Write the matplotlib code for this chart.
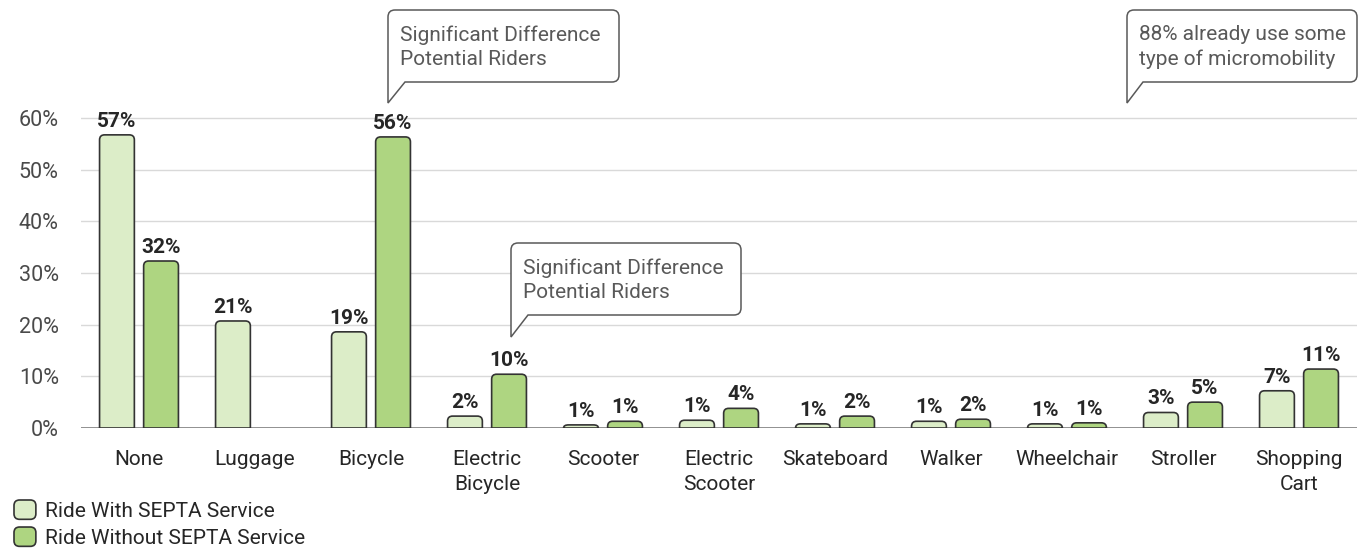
import matplotlib
matplotlib.use("Agg")
import matplotlib.pyplot as plt
from matplotlib.path import Path
from matplotlib.patches import PathPatch, FancyBboxPatch, Patch
from matplotlib.legend_handler import HandlerPatch
from matplotlib.transforms import Affine2D
import numpy as np

plt.rcParams["font.family"] = ["Roboto", "DejaVu Sans"]

# data
categories = ["None", "Luggage", "Bicycle", "Electric\nBicycle", "Scooter",
              "Electric\nScooter", "Skateboard", "Walker", "Wheelchair",
              "Stroller", "Shopping\nCart"]
with_septa = [56.7, 20.7, 18.6, 2.3, 0.6, 1.5, 0.8, 1.3, 0.8, 3.0, 7.2]
without_septa = [32.3, 0.0, 56.3, 10.4, 1.3, 3.8, 2.3, 1.7, 1.0, 5.0, 11.4]
with_labels = ["57%", "21%", "19%", "2%", "1%", "1%", "1%", "1%", "1%", "3%", "7%"]
without_labels = ["32%", "", "56%", "10%", "1%", "4%", "2%", "2%", "1%", "5%", "11%"]
series_names = ["Ride With SEPTA Service", "Ride Without SEPTA Service"]
yticks = [0, 10, 20, 30, 40, 50, 60]

callouts = [
    ("Significant Difference\nPotential Riders", (388, 10, 619, 82, 405, 103)),
    ("Significant Difference\nPotential Riders", (511, 243, 741, 315, 528, 337)),
    ("88% already use some\ntype of micromobility", (1127, 10, 1357, 82, 1143, 103)),
]

LIGHT = "#dcedc8"
DARK = "#aed581"
EDGE = "#333333"
TEXT = "#262626"
GRAY = "#595959"

W, H = 1359, 557
fig = plt.figure(figsize=(W / 100, H / 100), dpi=100)
ax = fig.add_axes([81 / W, (H - 428) / H, (1357 - 81) / W, 428 / H])
px = Affine2D().scale(1 / W, -1 / H).translate(0, 1) + fig.transFigure

x = np.arange(len(categories))
bw = 0.30
off = 0.19
b1 = ax.bar(x - off, with_septa, bw, color=LIGHT)
b2 = ax.bar(x + off, without_septa, bw, color=DARK)

ax.set_xlim(-0.5, len(categories) - 0.5)
ax.set_ylim(0, 428 / 5.17)

# rounded top corners
rx = 5 / 116
ry = 5 / 5.17


def rounded(rect):
    x0, w, h = rect.get_x(), rect.get_width(), rect.get_height()
    r_y = min(ry, h)
    verts = [(x0, 0), (x0, h - r_y), (x0, h), (x0 + rx, h), (x0 + w - rx, h),
             (x0 + w, h), (x0 + w, h - r_y), (x0 + w, 0), (x0, 0)]
    codes = [Path.MOVETO, Path.LINETO, Path.CURVE3, Path.CURVE3, Path.LINETO,
             Path.CURVE3, Path.CURVE3, Path.LINETO, Path.CLOSEPOLY]
    return Path(verts, codes)


for bars in (b1, b2):
    for rect in bars:
        rect.set_visible(False)
        if rect.get_height() <= 0:
            continue
        ax.add_patch(PathPatch(rounded(rect), facecolor=rect.get_facecolor(),
                               edgecolor=EDGE, lw=1.2, zorder=3))

ax.bar_label(b1, labels=with_labels, padding=3, fontsize=15, fontweight="bold", color=TEXT)
ax.bar_label(b2, labels=without_labels, padding=3, fontsize=15, fontweight="bold", color=TEXT)

# axes styling
for s in ax.spines.values():
    s.set_visible(False)
ax.set_yticks(yticks)
ax.set_yticklabels([f"{v}%" for v in yticks])
ax.set_xticks(x)
ax.set_xticklabels(categories)
ax.tick_params(axis="y", length=0, pad=16, labelsize=15.5, labelcolor="#4a4a4a")
ax.tick_params(axis="x", length=0, pad=16, labelsize=15, labelcolor=TEXT)
for lab in ax.get_xticklabels():
    lab.set_linespacing(1.4)
ax.yaxis.grid(True, color="#d9d9d9", lw=1)
ax.set_axisbelow(True)
ax.axhline(0, color="#808080", lw=1.2, zorder=2)

# callouts
for text, (x0, y0, x1, y1, tx, ty) in callouts:
    r = 7
    verts = [(x0 + r, y0), (x1 - r, y0), (x1, y0), (x1, y0 + r), (x1, y1 - r),
             (x1, y1), (x1 - r, y1), (tx, y1), (x0, ty), (x0, y0 + r),
             (x0, y0), (x0 + r, y0), (x0 + r, y0)]
    codes = [Path.MOVETO, Path.LINETO, Path.CURVE3, Path.CURVE3, Path.LINETO,
             Path.CURVE3, Path.CURVE3, Path.LINETO, Path.LINETO, Path.LINETO,
             Path.CURVE3, Path.CURVE3, Path.CLOSEPOLY]
    fig.add_artist(PathPatch(Path(verts, codes), transform=px, facecolor="white",
                             edgecolor=GRAY, lw=1.1, zorder=5))
    fig.text(x0 + 12, y0 + 15, text, transform=px, ha="left", va="top",
             fontsize=15, color=GRAY, linespacing=1.38, zorder=6)


def legend_box(legend, orig_handle, xdescent, ydescent, width, height, fontsize):
    return FancyBboxPatch((-xdescent, -ydescent), width, height,
                          boxstyle="round,pad=0,rounding_size=4")


handles = [Patch(facecolor=LIGHT, edgecolor=EDGE, lw=1.2),
           Patch(facecolor=DARK, edgecolor=EDGE, lw=1.2)]
leg = fig.legend(handles, series_names, loc="upper left", bbox_to_anchor=(14, 500),
                 bbox_transform=px, frameon=False, fontsize=15, handlelength=1.05,
                 handleheight=1.05, handletextpad=0.45, labelspacing=0.3,
                 borderpad=0, borderaxespad=0,
                 handler_map={Patch: HandlerPatch(patch_func=legend_box)})
for t in leg.get_texts():
    t.set_color(TEXT)

fig.savefig("out.png", dpi=100)
